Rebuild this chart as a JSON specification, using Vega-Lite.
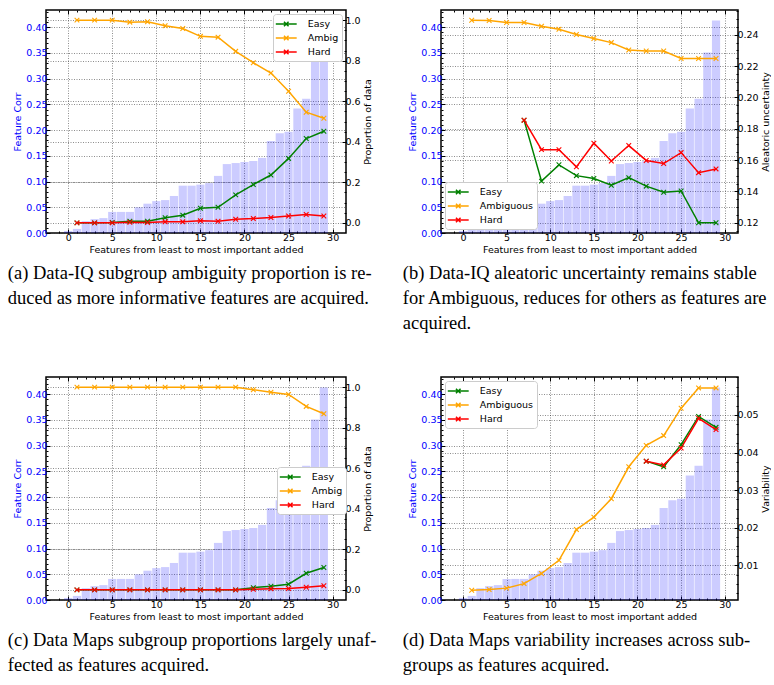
{
  "$schema": "https://vega.github.io/schema/vega-lite/v6.json",
  "datasets": {
    "bars": [
      {"feat":0,"corr":0.004},{"feat":1,"corr":0.008},{"feat":2,"corr":0.023},{"feat":3,"corr":0.027},{"feat":4,"corr":0.029},
      {"feat":5,"corr":0.041},{"feat":6,"corr":0.041},{"feat":7,"corr":0.041},{"feat":8,"corr":0.050},{"feat":9,"corr":0.057},
      {"feat":10,"corr":0.062},{"feat":11,"corr":0.064},{"feat":12,"corr":0.072},{"feat":13,"corr":0.092},{"feat":14,"corr":0.092},
      {"feat":15,"corr":0.094},{"feat":16,"corr":0.097},{"feat":17,"corr":0.111},{"feat":18,"corr":0.134},{"feat":19,"corr":0.136},
      {"feat":20,"corr":0.138},{"feat":21,"corr":0.140},{"feat":22,"corr":0.146},{"feat":23,"corr":0.179},{"feat":24,"corr":0.194},
      {"feat":25,"corr":0.197},{"feat":26,"corr":0.242},{"feat":27,"corr":0.261},{"feat":28,"corr":0.351},{"feat":29,"corr":0.413}
    ],
    "a": [
      {"group":"Easy","feat":1,"val":0},{"group":"Easy","feat":3,"val":0},{"group":"Easy","feat":5,"val":0.002},{"group":"Easy","feat":7,"val":0.008},{"group":"Easy","feat":9,"val":0.008},{"group":"Easy","feat":11,"val":0.025},{"group":"Easy","feat":13,"val":0.038},{"group":"Easy","feat":15,"val":0.072},{"group":"Easy","feat":17,"val":0.077},{"group":"Easy","feat":19,"val":0.138},{"group":"Easy","feat":21,"val":0.189},{"group":"Easy","feat":23,"val":0.236},{"group":"Easy","feat":25,"val":0.318},{"group":"Easy","feat":27,"val":0.416},{"group":"Easy","feat":29,"val":0.452},
      {"group":"Ambig","feat":1,"val":1.0},{"group":"Ambig","feat":3,"val":1.0},{"group":"Ambig","feat":5,"val":1.0},{"group":"Ambig","feat":7,"val":0.990},{"group":"Ambig","feat":9,"val":0.992},{"group":"Ambig","feat":11,"val":0.972},{"group":"Ambig","feat":13,"val":0.959},{"group":"Ambig","feat":15,"val":0.920},{"group":"Ambig","feat":17,"val":0.916},{"group":"Ambig","feat":19,"val":0.846},{"group":"Ambig","feat":21,"val":0.790},{"group":"Ambig","feat":23,"val":0.739},{"group":"Ambig","feat":25,"val":0.649},{"group":"Ambig","feat":27,"val":0.546},{"group":"Ambig","feat":29,"val":0.516},
      {"group":"Hard","feat":1,"val":0},{"group":"Hard","feat":3,"val":0},{"group":"Hard","feat":5,"val":0},{"group":"Hard","feat":7,"val":0.003},{"group":"Hard","feat":9,"val":0.002},{"group":"Hard","feat":11,"val":0.005},{"group":"Hard","feat":13,"val":0.005},{"group":"Hard","feat":15,"val":0.010},{"group":"Hard","feat":17,"val":0.008},{"group":"Hard","feat":19,"val":0.018},{"group":"Hard","feat":21,"val":0.021},{"group":"Hard","feat":23,"val":0.026},{"group":"Hard","feat":25,"val":0.034},{"group":"Hard","feat":27,"val":0.041},{"group":"Hard","feat":29,"val":0.034}
    ],
    "b": [
      {"group":"Easy","feat":7,"val":0.1855},{"group":"Easy","feat":9,"val":0.1466},{"group":"Easy","feat":11,"val":0.1570},{"group":"Easy","feat":13,"val":0.1501},{"group":"Easy","feat":15,"val":0.1483},{"group":"Easy","feat":17,"val":0.1440},{"group":"Easy","feat":19,"val":0.1488},{"group":"Easy","feat":21,"val":0.1434},{"group":"Easy","feat":23,"val":0.1395},{"group":"Easy","feat":25,"val":0.1403},{"group":"Easy","feat":27,"val":0.1200},{"group":"Easy","feat":29,"val":0.1200},
      {"group":"Ambiguous","feat":1,"val":0.2493},{"group":"Ambiguous","feat":3,"val":0.2491},{"group":"Ambiguous","feat":5,"val":0.2478},{"group":"Ambiguous","feat":7,"val":0.2478},{"group":"Ambiguous","feat":9,"val":0.2454},{"group":"Ambiguous","feat":11,"val":0.2435},{"group":"Ambiguous","feat":13,"val":0.2402},{"group":"Ambiguous","feat":15,"val":0.2376},{"group":"Ambiguous","feat":17,"val":0.2350},{"group":"Ambiguous","feat":19,"val":0.2303},{"group":"Ambiguous","feat":21,"val":0.2296},{"group":"Ambiguous","feat":23,"val":0.2296},{"group":"Ambiguous","feat":25,"val":0.2249},{"group":"Ambiguous","feat":27,"val":0.2249},{"group":"Ambiguous","feat":29,"val":0.2249},
      {"group":"Hard","feat":7,"val":0.1855},{"group":"Hard","feat":9,"val":0.1667},{"group":"Hard","feat":11,"val":0.1667},{"group":"Hard","feat":13,"val":0.1557},{"group":"Hard","feat":15,"val":0.1708},{"group":"Hard","feat":17,"val":0.1594},{"group":"Hard","feat":19,"val":0.1693},{"group":"Hard","feat":21,"val":0.1598},{"group":"Hard","feat":23,"val":0.1578},{"group":"Hard","feat":25,"val":0.1648},{"group":"Hard","feat":27,"val":0.1520},{"group":"Hard","feat":29,"val":0.1544}
    ],
    "c": [
      {"group":"Easy","feat":1,"val":0},{"group":"Easy","feat":3,"val":0},{"group":"Easy","feat":5,"val":0},{"group":"Easy","feat":7,"val":0},{"group":"Easy","feat":9,"val":0},{"group":"Easy","feat":11,"val":0},{"group":"Easy","feat":13,"val":0},{"group":"Easy","feat":15,"val":0},{"group":"Easy","feat":17,"val":0},{"group":"Easy","feat":19,"val":0},{"group":"Easy","feat":21,"val":0.011},{"group":"Easy","feat":23,"val":0.018},{"group":"Easy","feat":25,"val":0.028},{"group":"Easy","feat":27,"val":0.082},{"group":"Easy","feat":29,"val":0.110},
      {"group":"Ambig","feat":1,"val":1.0},{"group":"Ambig","feat":3,"val":1.0},{"group":"Ambig","feat":5,"val":1.0},{"group":"Ambig","feat":7,"val":1.0},{"group":"Ambig","feat":9,"val":1.0},{"group":"Ambig","feat":11,"val":1.0},{"group":"Ambig","feat":13,"val":1.0},{"group":"Ambig","feat":15,"val":1.0},{"group":"Ambig","feat":17,"val":1.0},{"group":"Ambig","feat":19,"val":1.0},{"group":"Ambig","feat":21,"val":0.987},{"group":"Ambig","feat":23,"val":0.975},{"group":"Ambig","feat":25,"val":0.964},{"group":"Ambig","feat":27,"val":0.905},{"group":"Ambig","feat":29,"val":0.869},
      {"group":"Hard","feat":1,"val":0},{"group":"Hard","feat":3,"val":0},{"group":"Hard","feat":5,"val":0},{"group":"Hard","feat":7,"val":0},{"group":"Hard","feat":9,"val":0},{"group":"Hard","feat":11,"val":0},{"group":"Hard","feat":13,"val":0},{"group":"Hard","feat":15,"val":0},{"group":"Hard","feat":17,"val":0},{"group":"Hard","feat":19,"val":0},{"group":"Hard","feat":21,"val":0.003},{"group":"Hard","feat":23,"val":0.005},{"group":"Hard","feat":25,"val":0.007},{"group":"Hard","feat":27,"val":0.013},{"group":"Hard","feat":29,"val":0.020}
    ],
    "d": [
      {"group":"Easy","feat":21,"val":0.0377},{"group":"Easy","feat":23,"val":0.0362},{"group":"Easy","feat":25,"val":0.0421},{"group":"Easy","feat":27,"val":0.0496},{"group":"Easy","feat":29,"val":0.0467},
      {"group":"Ambiguous","feat":1,"val":0.00335},{"group":"Ambiguous","feat":3,"val":0.00353},{"group":"Ambiguous","feat":5,"val":0.0039},{"group":"Ambiguous","feat":7,"val":0.0051},{"group":"Ambiguous","feat":9,"val":0.0078},{"group":"Ambiguous","feat":11,"val":0.0113},{"group":"Ambiguous","feat":13,"val":0.0195},{"group":"Ambiguous","feat":15,"val":0.0228},{"group":"Ambiguous","feat":17,"val":0.0277},{"group":"Ambiguous","feat":19,"val":0.0362},{"group":"Ambiguous","feat":21,"val":0.0419},{"group":"Ambiguous","feat":23,"val":0.0445},{"group":"Ambiguous","feat":25,"val":0.0518},{"group":"Ambiguous","feat":27,"val":0.0572},{"group":"Ambiguous","feat":29,"val":0.0572},
      {"group":"Hard","feat":21,"val":0.0377},{"group":"Hard","feat":23,"val":0.0367},{"group":"Hard","feat":25,"val":0.0412},{"group":"Hard","feat":27,"val":0.0491},{"group":"Hard","feat":29,"val":0.0461}
    ]
  },
  "columns": 2,
  "spacing": {"column": 95, "row": 144},
  "bounds": "flush",
  "padding": {"left": 7, "top": 8, "right": 0, "bottom": 0},
  "resolve": {"scale": {"color": "independent"}, "legend": {"color": "independent"}},
  "concat": [
    {
      "width": 300, "height": 223,
      "title": {"text": ["(a) Data-IQ subgroup ambiguity proportion is re-", "duced as more informative features are acquired."]},
      "layer": [
        {"data": {"name": "bars"}, "mark": {"type": "bar", "width": 8.2, "color": "blue", "opacity": 0.2},
         "encoding": {
           "x": {"field": "feat", "type": "quantitative", "scale": {"domain": [-1.945, 30.945], "nice": false, "zero": false}, "axis": {"orient": "bottom", "values": [0,5,10,15,20,25,30], "title": "Features from least to most important added", "grid": true, "tickSize": -4}},
           "y": {"field": "corr", "type": "quantitative", "scale": {"domain": [0, 0.4335], "nice": false}, "axis": {"orient": "left", "values": [0,0.05,0.1,0.15,0.2,0.25,0.3,0.35,0.4], "format": ".2f", "title": "Feature Corr", "labelColor": "blue", "titleColor": "blue", "grid": true, "tickSize": -4}}
         }},
        {"data": {"name": "a"}, "mark": {"type": "line", "strokeWidth": 1.5, "point": {"shape": "M-1,-1L1,1M-1,1L1,-1", "filled": false, "size": 22, "strokeWidth": 1.1}},
         "encoding": {
           "x": {"field": "feat", "type": "quantitative", "scale": {"domain": [-1.945, 30.945], "nice": false, "zero": false}, "axis": {"orient": "top", "values": [0,5,10,15,20,25,30], "labels": false, "title": null, "grid": false, "tickSize": -4}},
           "y": {"field": "val", "type": "quantitative", "scale": {"domain": [-0.05, 1.05], "nice": false, "zero": false}, "axis": {"orient": "right", "values": [0,0.2,0.4,0.6,0.8,1.0], "format": ".1f", "title": "Proportion of data", "titleAngle": 270, "titleBaseline": "top", "titlePadding": 2, "grid": true, "tickSize": -4}},
           "color": {"field": "group", "type": "nominal", "scale": {"domain": ["Easy","Ambig","Hard"], "range": ["green","orange","red"]}, "legend": {"title": null, "orient": "top-right", "offset": 4}}
         }},
        {"data": {"name": "bars"}, "mark": {"type": "point", "opacity": 0},
         "encoding": {
           "x": {"field": "feat", "type": "quantitative", "scale": {"domain": [-1.945, 30.945], "nice": false, "zero": false}, "axis": {"orient": "bottom", "values": [-1,0,1,2,3,4,5,6,7,8,9,10,11,12,13,14,15,16,17,18,19,20,21,22,23,24,25,26,27,28,29,30], "labels": false, "title": null, "grid": false, "tickSize": -2}},
           "y": {"field": "corr", "type": "quantitative", "scale": {"domain": [0, 0.4335], "nice": false}, "axis": {"orient": "left", "values": [0,0.01,0.02,0.03,0.04,0.05,0.06,0.07,0.08,0.09,0.1,0.11,0.12,0.13,0.14,0.15,0.16,0.17,0.18,0.19,0.2,0.21,0.22,0.23,0.24,0.25,0.26,0.27,0.28,0.29,0.3,0.31,0.32,0.33,0.34,0.35,0.36,0.37,0.38,0.39,0.4,0.41,0.42,0.43], "labels": false, "title": null, "grid": false, "tickSize": -2}}
         }},
        {"data": {"name": "a"}, "mark": {"type": "point", "opacity": 0},
         "encoding": {
           "x": {"field": "feat", "type": "quantitative", "scale": {"domain": [-1.945, 30.945], "nice": false, "zero": false}, "axis": {"orient": "top", "values": [-1,0,1,2,3,4,5,6,7,8,9,10,11,12,13,14,15,16,17,18,19,20,21,22,23,24,25,26,27,28,29,30], "labels": false, "title": null, "grid": false, "tickSize": -2}},
           "y": {"field": "val", "type": "quantitative", "scale": {"domain": [-0.05, 1.05], "nice": false, "zero": false}, "axis": {"orient": "right", "values": [0,0.05,0.1,0.15,0.2,0.25,0.3,0.35,0.4,0.45,0.5,0.55,0.6,0.65,0.7,0.75,0.8,0.85,0.9,0.95,1.0], "labels": false, "title": null, "grid": false, "tickSize": -2}}
         }}
      ],
      "resolve": {"scale": {"y": "independent"}, "axis": {"x": "independent"}}
    },
    {
      "width": 297, "height": 223,
      "title": {"text": ["(b) Data-IQ aleatoric uncertainty remains stable", "for Ambiguous, reduces for others as features are", "acquired."]},
      "layer": [
        {"data": {"name": "bars"}, "mark": {"type": "bar", "width": 8.2, "color": "blue", "opacity": 0.2},
         "encoding": {
           "x": {"field": "feat", "type": "quantitative", "scale": {"domain": [-1.945, 30.945], "nice": false, "zero": false}, "axis": {"orient": "bottom", "values": [0,5,10,15,20,25,30], "title": "Features from least to most important added", "grid": true, "tickSize": -4}},
           "y": {"field": "corr", "type": "quantitative", "scale": {"domain": [0, 0.4335], "nice": false}, "axis": {"orient": "left", "values": [0,0.05,0.1,0.15,0.2,0.25,0.3,0.35,0.4], "format": ".2f", "title": "Feature Corr", "labelColor": "blue", "titleColor": "blue", "grid": true, "tickSize": -4}}
         }},
        {"data": {"name": "b"}, "mark": {"type": "line", "strokeWidth": 1.5, "point": {"shape": "M-1,-1L1,1M-1,1L1,-1", "filled": false, "size": 22, "strokeWidth": 1.1}},
         "encoding": {
           "x": {"field": "feat", "type": "quantitative", "scale": {"domain": [-1.945, 30.945], "nice": false, "zero": false}, "axis": {"orient": "top", "values": [0,5,10,15,20,25,30], "labels": false, "title": null, "grid": false, "tickSize": -4}},
           "y": {"field": "val", "type": "quantitative", "scale": {"domain": [0.1135, 0.2558], "nice": false, "zero": false}, "axis": {"orient": "right", "values": [0.12,0.14,0.16,0.18,0.2,0.22,0.24], "format": ".2f", "title": "Aleatoric uncertainty", "titleAngle": 270, "titleBaseline": "top", "titlePadding": 2, "grid": true, "tickSize": -4}},
           "color": {"field": "group", "type": "nominal", "scale": {"domain": ["Easy","Ambiguous","Hard"], "range": ["green","orange","red"]}, "legend": {"title": null, "orient": "bottom-left", "offset": 4}}
         }},
        {"data": {"name": "bars"}, "mark": {"type": "point", "opacity": 0},
         "encoding": {
           "x": {"field": "feat", "type": "quantitative", "scale": {"domain": [-1.945, 30.945], "nice": false, "zero": false}, "axis": {"orient": "bottom", "values": [-1,0,1,2,3,4,5,6,7,8,9,10,11,12,13,14,15,16,17,18,19,20,21,22,23,24,25,26,27,28,29,30], "labels": false, "title": null, "grid": false, "tickSize": -2}},
           "y": {"field": "corr", "type": "quantitative", "scale": {"domain": [0, 0.4335], "nice": false}, "axis": {"orient": "left", "values": [0,0.01,0.02,0.03,0.04,0.05,0.06,0.07,0.08,0.09,0.1,0.11,0.12,0.13,0.14,0.15,0.16,0.17,0.18,0.19,0.2,0.21,0.22,0.23,0.24,0.25,0.26,0.27,0.28,0.29,0.3,0.31,0.32,0.33,0.34,0.35,0.36,0.37,0.38,0.39,0.4,0.41,0.42,0.43], "labels": false, "title": null, "grid": false, "tickSize": -2}}
         }},
        {"data": {"name": "b"}, "mark": {"type": "point", "opacity": 0},
         "encoding": {
           "x": {"field": "feat", "type": "quantitative", "scale": {"domain": [-1.945, 30.945], "nice": false, "zero": false}, "axis": {"orient": "top", "values": [-1,0,1,2,3,4,5,6,7,8,9,10,11,12,13,14,15,16,17,18,19,20,21,22,23,24,25,26,27,28,29,30], "labels": false, "title": null, "grid": false, "tickSize": -2}},
           "y": {"field": "val", "type": "quantitative", "scale": {"domain": [0.1135, 0.2558], "nice": false, "zero": false}, "axis": {"orient": "right", "values": [0.115,0.12,0.125,0.13,0.135,0.14,0.145,0.15,0.155,0.16,0.165,0.17,0.175,0.18,0.185,0.19,0.195,0.2,0.205,0.21,0.215,0.22,0.225,0.23,0.235,0.24,0.245,0.25,0.255], "labels": false, "title": null, "grid": false, "tickSize": -2}}
         }}
      ],
      "resolve": {"scale": {"y": "independent"}, "axis": {"x": "independent"}}
    },
    {
      "width": 300, "height": 223,
      "title": {"text": ["(c) Data Maps subgroup proportions largely unaf-", "fected as features acquired."]},
      "layer": [
        {"data": {"name": "bars"}, "mark": {"type": "bar", "width": 8.2, "color": "blue", "opacity": 0.2},
         "encoding": {
           "x": {"field": "feat", "type": "quantitative", "scale": {"domain": [-1.945, 30.945], "nice": false, "zero": false}, "axis": {"orient": "bottom", "values": [0,5,10,15,20,25,30], "title": "Features from least to most important added", "grid": true, "tickSize": -4}},
           "y": {"field": "corr", "type": "quantitative", "scale": {"domain": [0, 0.4335], "nice": false}, "axis": {"orient": "left", "values": [0,0.05,0.1,0.15,0.2,0.25,0.3,0.35,0.4], "format": ".2f", "title": "Feature Corr", "labelColor": "blue", "titleColor": "blue", "grid": true, "tickSize": -4}}
         }},
        {"data": {"name": "c"}, "mark": {"type": "line", "strokeWidth": 1.5, "point": {"shape": "M-1,-1L1,1M-1,1L1,-1", "filled": false, "size": 22, "strokeWidth": 1.1}},
         "encoding": {
           "x": {"field": "feat", "type": "quantitative", "scale": {"domain": [-1.945, 30.945], "nice": false, "zero": false}, "axis": {"orient": "top", "values": [0,5,10,15,20,25,30], "labels": false, "title": null, "grid": false, "tickSize": -4}},
           "y": {"field": "val", "type": "quantitative", "scale": {"domain": [-0.05, 1.05], "nice": false, "zero": false}, "axis": {"orient": "right", "values": [0,0.2,0.4,0.6,0.8,1.0], "format": ".1f", "title": "Proportion of data", "titleAngle": 270, "titleBaseline": "top", "titlePadding": 2, "grid": true, "tickSize": -4}},
           "color": {"field": "group", "type": "nominal", "scale": {"domain": ["Easy","Ambig","Hard"], "range": ["green","orange","red"]}, "legend": {"title": null, "orient": "none", "legendX": 231, "legendY": 90}}
         }},
        {"data": {"name": "bars"}, "mark": {"type": "point", "opacity": 0},
         "encoding": {
           "x": {"field": "feat", "type": "quantitative", "scale": {"domain": [-1.945, 30.945], "nice": false, "zero": false}, "axis": {"orient": "bottom", "values": [-1,0,1,2,3,4,5,6,7,8,9,10,11,12,13,14,15,16,17,18,19,20,21,22,23,24,25,26,27,28,29,30], "labels": false, "title": null, "grid": false, "tickSize": -2}},
           "y": {"field": "corr", "type": "quantitative", "scale": {"domain": [0, 0.4335], "nice": false}, "axis": {"orient": "left", "values": [0,0.01,0.02,0.03,0.04,0.05,0.06,0.07,0.08,0.09,0.1,0.11,0.12,0.13,0.14,0.15,0.16,0.17,0.18,0.19,0.2,0.21,0.22,0.23,0.24,0.25,0.26,0.27,0.28,0.29,0.3,0.31,0.32,0.33,0.34,0.35,0.36,0.37,0.38,0.39,0.4,0.41,0.42,0.43], "labels": false, "title": null, "grid": false, "tickSize": -2}}
         }},
        {"data": {"name": "c"}, "mark": {"type": "point", "opacity": 0},
         "encoding": {
           "x": {"field": "feat", "type": "quantitative", "scale": {"domain": [-1.945, 30.945], "nice": false, "zero": false}, "axis": {"orient": "top", "values": [-1,0,1,2,3,4,5,6,7,8,9,10,11,12,13,14,15,16,17,18,19,20,21,22,23,24,25,26,27,28,29,30], "labels": false, "title": null, "grid": false, "tickSize": -2}},
           "y": {"field": "val", "type": "quantitative", "scale": {"domain": [-0.05, 1.05], "nice": false, "zero": false}, "axis": {"orient": "right", "values": [0,0.05,0.1,0.15,0.2,0.25,0.3,0.35,0.4,0.45,0.5,0.55,0.6,0.65,0.7,0.75,0.8,0.85,0.9,0.95,1.0], "labels": false, "title": null, "grid": false, "tickSize": -2}}
         }}
      ],
      "resolve": {"scale": {"y": "independent"}, "axis": {"x": "independent"}}
    },
    {
      "width": 297, "height": 223,
      "title": {"text": ["(d) Data Maps variability increases across sub-", "groups as features acquired."]},
      "layer": [
        {"data": {"name": "bars"}, "mark": {"type": "bar", "width": 8.2, "color": "blue", "opacity": 0.2},
         "encoding": {
           "x": {"field": "feat", "type": "quantitative", "scale": {"domain": [-1.945, 30.945], "nice": false, "zero": false}, "axis": {"orient": "bottom", "values": [0,5,10,15,20,25,30], "title": "Features from least to most important added", "grid": true, "tickSize": -4}},
           "y": {"field": "corr", "type": "quantitative", "scale": {"domain": [0, 0.4335], "nice": false}, "axis": {"orient": "left", "values": [0,0.05,0.1,0.15,0.2,0.25,0.3,0.35,0.4], "format": ".2f", "title": "Feature Corr", "labelColor": "blue", "titleColor": "blue", "grid": true, "tickSize": -4}}
         }},
        {"data": {"name": "d"}, "mark": {"type": "line", "strokeWidth": 1.5, "point": {"shape": "M-1,-1L1,1M-1,1L1,-1", "filled": false, "size": 22, "strokeWidth": 1.1}},
         "encoding": {
           "x": {"field": "feat", "type": "quantitative", "scale": {"domain": [-1.945, 30.945], "nice": false, "zero": false}, "axis": {"orient": "top", "values": [0,5,10,15,20,25,30], "labels": false, "title": null, "grid": false, "tickSize": -4}},
           "y": {"field": "val", "type": "quantitative", "scale": {"domain": [0.00074, 0.0601], "nice": false, "zero": false}, "axis": {"orient": "right", "values": [0.01,0.02,0.03,0.04,0.05], "format": ".2f", "title": "Variability", "titleAngle": 270, "titleBaseline": "top", "titlePadding": 2, "grid": true, "tickSize": -4}},
           "color": {"field": "group", "type": "nominal", "scale": {"domain": ["Easy","Ambiguous","Hard"], "range": ["green","orange","red"]}, "legend": {"title": null, "orient": "top-left", "offset": 4}}
         }},
        {"data": {"name": "bars"}, "mark": {"type": "point", "opacity": 0},
         "encoding": {
           "x": {"field": "feat", "type": "quantitative", "scale": {"domain": [-1.945, 30.945], "nice": false, "zero": false}, "axis": {"orient": "bottom", "values": [-1,0,1,2,3,4,5,6,7,8,9,10,11,12,13,14,15,16,17,18,19,20,21,22,23,24,25,26,27,28,29,30], "labels": false, "title": null, "grid": false, "tickSize": -2}},
           "y": {"field": "corr", "type": "quantitative", "scale": {"domain": [0, 0.4335], "nice": false}, "axis": {"orient": "left", "values": [0,0.01,0.02,0.03,0.04,0.05,0.06,0.07,0.08,0.09,0.1,0.11,0.12,0.13,0.14,0.15,0.16,0.17,0.18,0.19,0.2,0.21,0.22,0.23,0.24,0.25,0.26,0.27,0.28,0.29,0.3,0.31,0.32,0.33,0.34,0.35,0.36,0.37,0.38,0.39,0.4,0.41,0.42,0.43], "labels": false, "title": null, "grid": false, "tickSize": -2}}
         }},
        {"data": {"name": "d"}, "mark": {"type": "point", "opacity": 0},
         "encoding": {
           "x": {"field": "feat", "type": "quantitative", "scale": {"domain": [-1.945, 30.945], "nice": false, "zero": false}, "axis": {"orient": "top", "values": [-1,0,1,2,3,4,5,6,7,8,9,10,11,12,13,14,15,16,17,18,19,20,21,22,23,24,25,26,27,28,29,30], "labels": false, "title": null, "grid": false, "tickSize": -2}},
           "y": {"field": "val", "type": "quantitative", "scale": {"domain": [0.00074, 0.0601], "nice": false, "zero": false}, "axis": {"orient": "right", "values": [0.0025,0.005,0.0075,0.01,0.0125,0.015,0.0175,0.02,0.0225,0.025,0.0275,0.03,0.0325,0.035,0.0375,0.04,0.0425,0.045,0.0475,0.05,0.0525,0.055,0.0575,0.06], "labels": false, "title": null, "grid": false, "tickSize": -2}}
         }}
      ],
      "resolve": {"scale": {"y": "independent"}, "axis": {"x": "independent"}}
    }
  ],
  "config": {
    "font": "DejaVu Sans",
    "background": "white",
    "view": {"stroke": "black", "strokeWidth": 1.5},
    "axis": {
      "labelFont": "DejaVu Sans", "labelFontSize": 9.5, "labelColor": "black", "labelPadding": 3, "labelFlush": false, "labelOverlap": false,
      "titleFont": "DejaVu Sans", "titleFontSize": 9.5, "titleFontWeight": "normal", "titleColor": "black", "titlePadding": 3,
      "domain": false, "tickColor": "black", "tickWidth": 1,
      "gridColor": "#333333", "gridDash": [1, 1.5], "gridWidth": 0.7, "gridOpacity": 0.8
    },
    "legend": {
      "labelFont": "DejaVu Sans", "labelFontSize": 9.5, "labelColor": "black", "labelOffset": 15,
      "fillColor": "white", "strokeColor": "#cccccc", "cornerRadius": 3, "padding": 3.5, "rowPadding": 2,
      "symbolType": "M-1.9,0H1.9M-0.42,-0.42L0.42,0.42M-0.42,0.42L0.42,-0.42", "symbolSize": 121, "symbolStrokeWidth": 1.5, "symbolOffset": 3.25
    },
    "title": {
      "font": "Liberation Serif", "fontSize": 18.5, "fontWeight": "normal", "color": "black",
      "orient": "bottom", "anchor": "start", "lineHeight": 25, "offset": 10, "dx": -5
    }
  }
}
